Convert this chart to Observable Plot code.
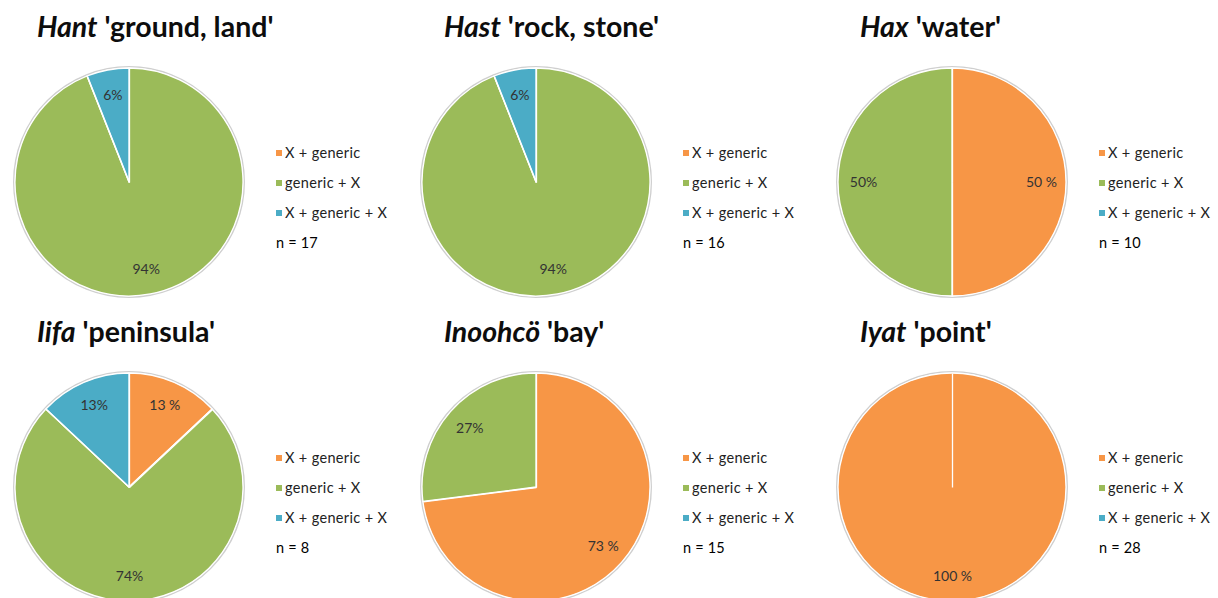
<!DOCTYPE html>
<html>
<head>
<meta charset="utf-8">
<script src="https://cdn.jsdelivr.net/npm/d3@7"></script>
<script src="https://cdn.jsdelivr.net/npm/@observablehq/plot@0.6"></script>
<style>
  html, body { margin: 0; padding: 0; background: #ffffff; }
  #board { position: relative; width: 1218px; height: 598px; overflow: hidden; font-family: Lato, "Liberation Sans", sans-serif; color: #000; }
  .panel { position: absolute; width: 406px; height: 300px; }
  .panel-title { position: absolute; left: 37px; top: 9px; font-size: 28.5px; line-height: 34px; font-weight: bold; white-space: nowrap; color: #0d0d0d; }
  .panel-title i { font-style: italic; }
  .panel svg { position: absolute; left: 0; top: 0; }
  .legend { position: absolute; left: 276px; top: 138px; font-size: 14.5px; letter-spacing: 0.35px; line-height: 30px; white-space: nowrap; color: #222; }
  .legend .row { height: 30px; }
  .legend .swatch { display: inline-block; width: 6px; height: 6px; margin-right: 3px; vertical-align: 2px; }
  .legend .count { color: #000; letter-spacing: 0.2px; }
</style>
</head>
<body>
<div id="board"></div>
<script>
// Place-name generics and the share of each word-order pattern (percent)
const headwords = ["Hant", "Hast", "Hax", "Iifa", "Inoohcö", "Iyat"];
const glosses = ["'ground, land'", "'rock, stone'", "'water'", "'peninsula'", "'bay'", "'point'"];
const categories = ["X + generic", "generic + X", "X + generic + X"];
const categoryColors = ["#f79646", "#9bbb59", "#4bacc6"];
const percentSuffix = [" %", "%", "%"];

const xGeneric = [0, 0, 50, 13, 73, 100];
const genericX = [94, 94, 50, 74, 27, 0];
const xGenericX = [6, 6, 0, 13, 0, 0];
const sampleSizes = [17, 16, 10, 8, 15, 28];

const series = [xGeneric, genericX, xGenericX];

// Panel layout on the board
const panelLeft = [0, 407, 823];
const panelTop = [0, 305];
const pieCenter = [129, 182];
const pieRadius = 114;
const labelRadius = 0.78;

const pie = d3.pie().sort(null).value(d => d.value).startAngle(0).endAngle(2 * Math.PI);

// Filled wedges drawn with d3.arc, positioned by the plot's x/y scales
function pieMark(arcs) {
  return (index, scales) => {
    const cx = scales.x(0), cy = scales.y(0);
    const r = scales.x(1) - scales.x(0);
    const color = scales.color || d3.scaleOrdinal(categories, categoryColors);
    const g = d3.create("svg:g").attr("transform", `translate(${cx},${cy})`);
    g.append("circle")
      .attr("r", r + 1.2)
      .attr("fill", "none")
      .attr("stroke", "#cfcfcf")
      .attr("stroke-width", 1.6);
    const arc = d3.arc().innerRadius(0).outerRadius(r);
    g.selectAll("path")
      .data(arcs)
      .join("path")
      .attr("d", arc)
      .attr("fill", d => color(d.data.category))
      .attr("stroke", "#ffffff")
      .attr("stroke-width", 1.3)
      .attr("stroke-linejoin", "round");
    return g.node();
  };
}

const board = document.getElementById("board");

headwords.forEach((word, i) => {
  const panel = document.createElement("div");
  panel.className = "panel";
  panel.style.left = panelLeft[i % 3] + "px";
  panel.style.top = panelTop[Math.floor(i / 3)] + "px";

  const title = document.createElement("div");
  title.className = "panel-title";
  title.innerHTML = `<i>${word}</i> ${glosses[i]}`;
  panel.appendChild(title);

  const slices = categories
    .map((category, c) => ({category, value: series[c][i], suffix: percentSuffix[c]}))
    .filter(d => d.value > 0);
  const arcs = pie(slices);

  const labels = arcs.map(a => {
    const mid = (a.startAngle + a.endAngle) / 2;
    return {x: labelRadius * Math.sin(mid), y: labelRadius * Math.cos(mid), text: a.data.value + a.data.suffix};
  });
  const edges = arcs.map(a => ({x: Math.sin(a.startAngle), y: Math.cos(a.startAngle)}));

  const chart = Plot.plot({
    width: 262,
    height: 300,
    margin: 0,
    style: {background: "transparent", overflow: "visible"},
    x: {domain: [-1, 1], range: [pieCenter[0] - pieRadius, pieCenter[0] + pieRadius], axis: null},
    y: {domain: [-1, 1], range: [pieCenter[1] + pieRadius, pieCenter[1] - pieRadius], axis: null},
    color: {domain: categories, range: categoryColors},
    marks: [
      pieMark(arcs),
      Plot.link(edges, {x1: 0, y1: 0, x2: "x", y2: "y", stroke: "#ffffff", strokeWidth: 1.3}),
      Plot.text(labels, {
        x: "x", y: "y", text: "text",
        fill: "#333333", fontSize: 14, fontFamily: "Lato, 'Liberation Sans', sans-serif"
      })
    ]
  });
  panel.appendChild(chart);

  const legend = document.createElement("div");
  legend.className = "legend";
  categories.forEach((category, c) => {
    const row = document.createElement("div");
    row.className = "row";
    row.innerHTML = `<span class="swatch" style="background:${categoryColors[c]}"></span>${category}`;
    legend.appendChild(row);
  });
  const count = document.createElement("div");
  count.className = "row count";
  count.textContent = `n = ${sampleSizes[i]}`;
  legend.appendChild(count);
  panel.appendChild(legend);

  board.appendChild(panel);
});
</script>
</body>
</html>
